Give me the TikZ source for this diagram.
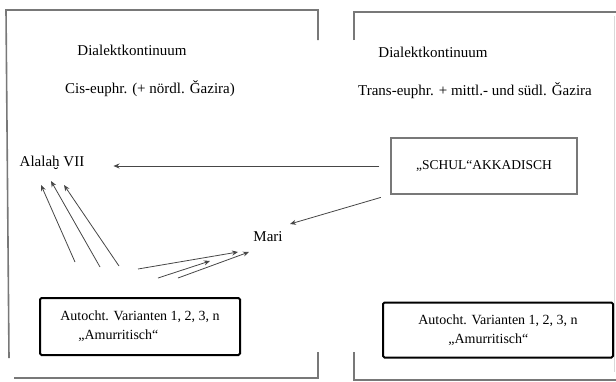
\documentclass[tikz,border=0pt]{standalone}
\usepackage{fontspec}
\setmainfont{Liberation Serif}
\usetikzlibrary{arrows.meta}
\definecolor{framegray}{RGB}{120,120,120}
\definecolor{linegray}{RGB}{70,70,70}
\tikzset{
    frameline/.style={line width=1.6pt,framegray},
    flow/.style={-{Stealth[length=6pt,width=5pt]},line width=0.8pt,linegray},
    label/.style={font=\fontsize{15}{17}\selectfont,inner sep=0pt},
    schoolbox/.style={draw=framegray,line width=1.2pt,minimum width=186pt,minimum height=56pt,
        font=\fontsize{13.5}{16}\selectfont},
    variantbox/.style={draw=black,line width=2pt,rounded corners=1.5pt,align=left,
        font=\fontsize{14}{19}\selectfont,inner sep=0pt}
}

\begin{document}
\begin{tikzpicture}[x=1pt,y=-1pt]
    \useasboundingbox (0,0) rectangle (616,381);
    % Frames
    \draw[frameline] (318,40) -- (318,10) -- (6,10) -- (9,358);
    \draw[frameline] (14,378) -- (318,378) -- (318,352);
    \draw[frameline] (354,40) -- (354,12) -- (616,12);
    \draw[frameline] (354,352) -- (354,380) -- (616,380);
    \draw[line width=0.6pt,black!15] (614,16) -- (614,372);
    % Headings
    \node[label] (dkcis) at (132,50) {Dialektkontinuum};
    \node[label] (cis) at (150,89) {Cis-euphr. (+ nördl. Ǧazira)};
    \node[label] (dktrans) at (433,52) {Dialektkontinuum};
    \node[label] (trans) at (475,91) {Trans-euphr. + mittl.- und südl. Ǧazira};
    % Places
    \node[label] (alalakh) at (52,163) {Alalaḫ VII};
    \node[label] (mari) at (268,237) {Mari};
    \node[schoolbox] (schul) at (484,166) {„SCHUL“AKKADISCH};
    % Autochthonous variants
    \node[variantbox,minimum width=200pt,minimum height=57pt] (varcis) at (140,326.5)
        {Autocht. Varianten 1, 2, 3, n\\\hspace*{18pt}„Amurritisch“};
    \node[variantbox,minimum width=230pt,minimum height=55pt] (vartrans) at (498,330)
        {Autocht. Varianten 1, 2, 3, n\\\hspace*{30pt}„Amurritisch“};
    % Free ends of the arrows
    \coordinate (a1) at (75,262);
    \coordinate (a2) at (100,267);
    \coordinate (a3) at (119,266);
    \coordinate (m1) at (138,269);
    \coordinate (m2) at (158,278);
    \coordinate (m3) at (178,278);
    \coordinate (ta1) at (41,185);
    \coordinate (ta2) at (51,181);
    \coordinate (ta3) at (64,185);
    \coordinate (tm1) at (238,252);
    \coordinate (tm2) at (210,261);
    \coordinate (tm3) at (249,252);
    \coordinate (tmari) at (290,224);
    % Arrows
    \draw[flow,shorten <=11pt,shorten >=29pt] (schul.west) -- (alalakh.east |- schul.west);
    \draw[flow,shorten <=10pt] (schul.south west) -- (tmari);
    \draw[flow] (a1) -- (ta1);
    \draw[flow] (a2) -- (ta2);
    \draw[flow] (a3) -- (ta3);
    \draw[flow] (m1) -- (tm1);
    \draw[flow] (m2) -- (tm2);
    \draw[flow] (m3) -- (tm3);
\end{tikzpicture}
\end{document}
